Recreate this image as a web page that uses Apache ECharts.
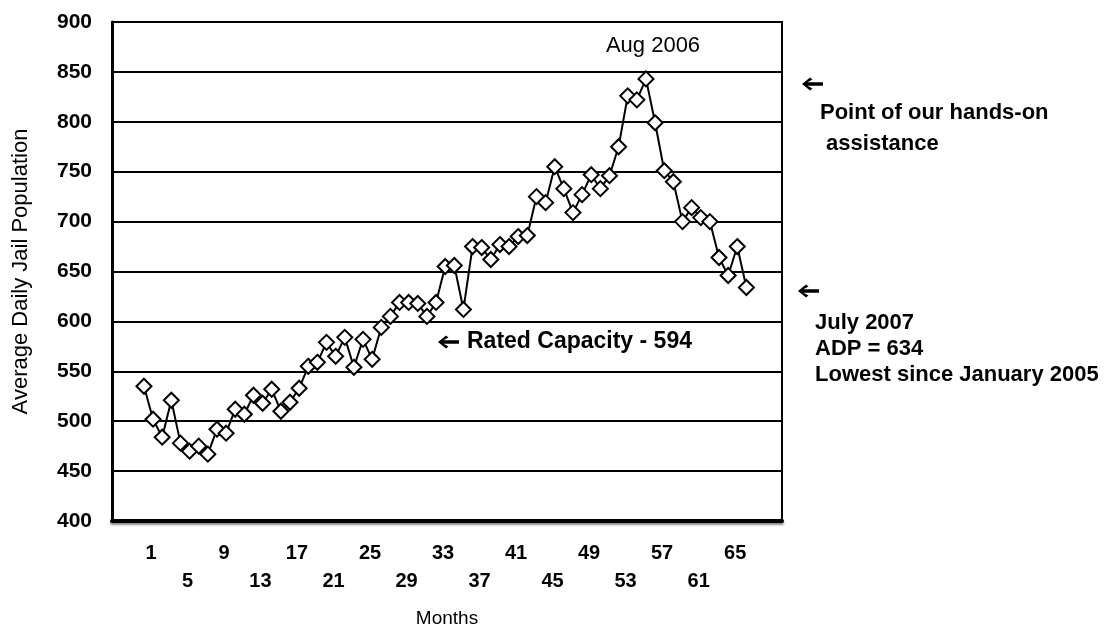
<!DOCTYPE html>
<html>
<head>
<meta charset="utf-8">
<script src="https://cdn.jsdelivr.net/npm/echarts@6/dist/echarts.min.js"></script>
<style>
html,body{margin:0;padding:0;background:#fff;}
#chart{width:1108px;height:633px;}
</style>
</head>
<body>
<div id="chart"></div>
<script>
// Months 1..67 (Jan 2002 .. Jul 2007)
const months = [1,2,3,4,5,6,7,8,9,10,11,12,13,14,15,16,17,18,19,20,21,22,23,24,25,26,27,28,29,30,31,32,33,34,35,36,37,38,39,40,41,42,43,44,45,46,47,48,49,50,51,52,53,54,55,56,57,58,59,60,61,62,63,64,65,66,67];
const adp = [535,502,484,521,478,470,475,467,492,488,512,507,526,518,532,510,519,533,555,559,579,565,584,554,582,562,594,605,619,619,618,605,619,655,656,612,675,674,662,677,675,685,686,725,719,755,733,709,727,747,733,746,775,826,822,843,799,751,740,700,714,704,700,664,646,675,634];
const xTickLabels = [1,5,9,13,17,21,25,29,33,37,41,45,49,53,57,61,65];
const yTicks = [400,450,500,550,600,650,700,750,800,850,900];

const chart = echarts.init(document.getElementById('chart'), null, {renderer:'canvas'});
const FONT = "'Liberation Sans',Arial,sans-serif";

function arrow(tipX, y){
  // left-pointing bold arrow drawn as a polygon
  return {type:'polygon', z:10, shape:{points:[
    [tipX, y], [tipX+8, y-6.5], [tipX+10.5, y-4.5], [tipX+5.5, y-1.8], [tipX+21, y-1.8],
    [tipX+21, y+1.8], [tipX+5.5, y+1.8], [tipX+10.5, y+4.5], [tipX+8, y+6.5]
  ]}, style:{fill:'#000'}};
}
function txt(s, x, y, font, align){
  return {type:'text', z:10, style:{text:s, x:x, y:y, align:align||'left', verticalAlign:'middle', font:font, fill:'#000'}};
}
const ANN = "bold 22px " + FONT;

const option = {
  backgroundColor:'#fff',
  animation:false,
  grid:{left:112, right:326, top:22, bottom:111, show:true, borderColor:'#000', borderWidth:2, backgroundColor:'transparent'},
  xAxis:{
    type:'value', min:-2.5, max:70.9,
    name:'Months', nameLocation:'middle', nameGap:88,
    nameTextStyle:{fontFamily:FONT, fontSize:19, color:'#000'},
    axisLine:{show:true, onZero:false, lineStyle:{color:'#000', width:4, shadowColor:'rgba(0,0,0,0.45)', shadowOffsetY:2, shadowBlur:2}},
    axisTick:{show:false},
    splitLine:{show:false},
    axisLabel:{
      customValues: xTickLabels,
      margin:22,
      formatter:function(v){
        const i = xTickLabels.indexOf(Math.round(v));
        return (i % 2 === 0 ? '{a|' : '{b|') + v + '}';
      },
      rich:{
        a:{fontFamily:FONT, fontWeight:'bold', fontSize:20, color:'#000', padding:[0,0,0,14]},
        b:{fontFamily:FONT, fontWeight:'bold', fontSize:20, color:'#000', padding:[28,0,0,14]}
      }
    }
  },
  yAxis:{
    type:'value', min:400, max:900, interval:50,
    name:'Average Daily Jail Population', nameLocation:'middle', nameGap:80, nameRotate:90,
    nameTextStyle:{fontFamily:FONT, fontSize:22, color:'#000'},
    axisLine:{show:true, onZero:false, lineStyle:{color:'#000', width:3}},
    axisTick:{show:false},
    axisLabel:{
      customValues: yTicks,
      margin:20, fontFamily:FONT, fontWeight:'bold', fontSize:21, color:'#000'
    },
    splitLine:{show:true, lineStyle:{color:'#000', width:2}}
  },
  series:[{
    type:'line',
    data: months.map((m,i)=>[m, adp[i]]),
    symbol:'diamond', symbolSize:15,
    showAllSymbol:true,
    lineStyle:{color:'#000', width:2},
    itemStyle:{color:'#fff', borderColor:'#000', borderWidth:2},
    z:5
  }],
  graphic:[
    txt('Aug 2006', 653, 46, "22px " + FONT, 'center'),
    arrow(438, 342),
    txt('Rated Capacity - 594', 467, 342, "bold 23px " + FONT),
    arrow(802, 84),
    txt('Point of our hands-on', 820, 113, ANN),
    txt(' assistance', 820, 144, ANN),
    arrow(798, 291),
    txt('July 2007', 815, 323, ANN),
    txt('ADP = 634', 815, 349, ANN),
    txt('Lowest since January 2005', 815, 375, ANN)
  ]
};
chart.setOption(option);
</script>
</body>
</html>
